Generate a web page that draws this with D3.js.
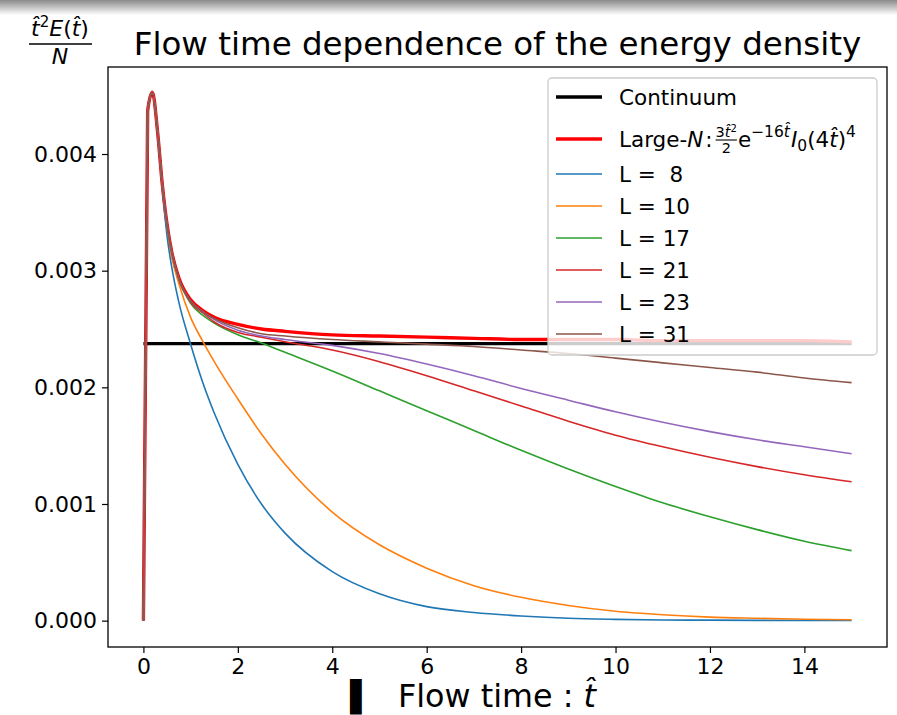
<!DOCTYPE html>
<html>
<head>
<meta charset="utf-8">
<script src="https://cdn.jsdelivr.net/npm/d3@7"></script>
<style>
  html, body { margin: 0; padding: 0; background: #fff; }
  svg { display: block; }
  text { font-family: "DejaVu Sans", sans-serif; fill: #000; }
</style>
</head>
<body>
<svg id="chart" width="897" height="715"></svg>
<script>
// Flow time grid shared by every curve
const flowTime = [0, 0.09, 0.19, 0.3, 0.4, 0.5, 0.6, 0.75, 1, 1.25, 1.5, 2, 2.5, 3, 4, 5, 6, 7, 8, 9, 10, 11, 12, 13, 14, 15];

// Continuum value of t^2 E / N
const continuumValue = 0.002375;

// Large-N curve
const largeN = [0, 0.00437, 0.00453, 0.00419, 0.00374, 0.00340, 0.00316, 0.00294, 0.00275, 0.00266, 0.00260, 0.00254, 0.00250, 0.00248, 0.00245, 0.00244, 0.00243, 0.00242, 0.00241, 0.00241, 0.00241, 0.00240, 0.00240, 0.00240, 0.00240, 0.00239];

// Lattice sizes and their curves
const latticeSizes = [8, 10, 17, 21, 23, 31];
const seriesL8  = [0, 0.00437, 0.00453, 0.00419, 0.00372, 0.00330, 0.00303, 0.00273, 0.00237, 0.00205, 0.00178, 0.00134, 0.00100, 0.00075, 0.00042, 0.00023, 0.00012, 0.00007, 0.00004, 0.00002, 0.000011, 0.000006, 0.000004, 0.000002, 0.000001, 0.000001];
const seriesL10 = [0, 0.00437, 0.00453, 0.00419, 0.00374, 0.00338, 0.00312, 0.00289, 0.00260, 0.00240, 0.00222, 0.00190, 0.00160, 0.00134, 0.00093, 0.00065, 0.00045, 0.00030, 0.00020, 0.00013, 0.00008, 0.00005, 0.00003, 0.00002, 0.000012, 0.000008];
const seriesL17 = [0, 0.00437, 0.00453, 0.00419, 0.00374, 0.00340, 0.00316, 0.00293, 0.00272, 0.00262, 0.00255, 0.00245, 0.00238, 0.00230, 0.00214, 0.00197, 0.00180, 0.00163, 0.00146, 0.00130, 0.00115, 0.00101, 0.00089, 0.00078, 0.00068, 0.00060];
const seriesL21 = [0, 0.00437, 0.00453, 0.00419, 0.00374, 0.00340, 0.00316, 0.00293, 0.00273, 0.00264, 0.00256, 0.00247, 0.00243, 0.00239, 0.00232, 0.00222, 0.00210, 0.00197, 0.00184, 0.00171, 0.00159, 0.00149, 0.00140, 0.00132, 0.00125, 0.00119];
const seriesL23 = [0, 0.00437, 0.00453, 0.00419, 0.00374, 0.00340, 0.00316, 0.00293, 0.00274, 0.00265, 0.00258, 0.00249, 0.00244, 0.00241, 0.00236, 0.00229, 0.00220, 0.00210, 0.00199, 0.00189, 0.00179, 0.00170, 0.00162, 0.00155, 0.00149, 0.00143];
const seriesL31 = [0, 0.00437, 0.00453, 0.00419, 0.00374, 0.00340, 0.00316, 0.00293, 0.00274, 0.00265, 0.00259, 0.00251, 0.00246, 0.00244, 0.00241, 0.00239, 0.00237, 0.00235, 0.00232, 0.00229, 0.00225, 0.00221, 0.00217, 0.00213, 0.00208, 0.00204];
const latticeSeries = [seriesL8, seriesL10, seriesL17, seriesL21, seriesL23, seriesL31];
const latticeColors = ["#1f77b4", "#ff7f0e", "#2ca02c", "#d62728", "#9467bd", "#8c564b"];

// Axis ticks
const xTicks = [0, 2, 4, 6, 8, 10, 12, 14];
const yTicks = [0, 0.001, 0.002, 0.003, 0.004];

const svg = d3.select("#chart");
const W = 897, H = 715;
const plot = { left: 108, right: 887, top: 67, bottom: 647 };

// faint shading along the top edge
const defs = svg.append("defs");
const grad = defs.append("linearGradient").attr("id", "topShade").attr("x1", 0).attr("y1", 0).attr("x2", 0).attr("y2", 1);
grad.append("stop").attr("offset", "0%").attr("stop-color", "#8a8a8a");
grad.append("stop").attr("offset", "100%").attr("stop-color", "#ffffff");
svg.append("rect").attr("x", 0).attr("y", 0).attr("width", W).attr("height", 15).attr("fill", "url(#topShade)");

const x = d3.scaleLinear().domain([-0.75, 15.75]).range([plot.left, plot.right]);
const y = d3.scaleLinear().domain([-0.000226, 0.004746]).range([plot.bottom, plot.top]);

const line = d3.line()
  .x(d => x(d[0]))
  .y(d => y(d[1]))
  .curve(d3.curveMonotoneX);

const gLines = svg.append("g");

// continuum
gLines.append("path")
  .datum([[flowTime[0], continuumValue], [flowTime[flowTime.length - 1], continuumValue]])
  .attr("d", line)
  .attr("fill", "none").attr("stroke", "#000").attr("stroke-width", 3.2);

// large-N
gLines.append("path")
  .datum(flowTime.map((t, i) => [t, largeN[i]]))
  .attr("d", line)
  .attr("fill", "none").attr("stroke", "#ff0000").attr("stroke-width", 3.4)
  .attr("stroke-linejoin", "round");

// lattice curves
latticeSeries.forEach((vals, k) => {
  gLines.append("path")
    .datum(flowTime.map((t, i) => [t, vals[i]]))
    .attr("d", line)
    .attr("fill", "none").attr("stroke", latticeColors[k]).attr("stroke-width", 1.6)
    .attr("stroke-linejoin", "round");
});

// axes
const xAxis = d3.axisBottom(x).tickValues(xTicks).tickFormat(d3.format("d")).tickSize(6).tickPadding(5);
const yAxis = d3.axisLeft(y).tickValues(yTicks).tickFormat(d3.format(".3f")).tickSize(6).tickPadding(5);

const gx = svg.append("g").attr("transform", `translate(0,${plot.bottom})`).call(xAxis);
const gy = svg.append("g").attr("transform", `translate(${plot.left},0)`).call(yAxis);
[gx, gy].forEach(g => {
  g.select(".domain").remove();
  g.selectAll(".tick line").attr("stroke", "#000").attr("stroke-width", 1.2);
  g.selectAll(".tick text").attr("font-size", 22).attr("font-family", "DejaVu Sans").attr("fill", "#000");
});

// frame
svg.append("rect")
  .attr("x", plot.left).attr("y", plot.top)
  .attr("width", plot.right - plot.left).attr("height", plot.bottom - plot.top)
  .attr("fill", "none").attr("stroke", "#000").attr("stroke-width", 1.3);

// title
svg.append("text")
  .attr("x", (plot.left + plot.right) / 2).attr("y", 55)
  .attr("text-anchor", "middle").attr("font-size", 32.5)
  .text("Flow time dependence of the energy density");

// y label as a stacked fraction
const yl = svg.append("g");
yl.append("text").attr("x", 60).attr("y", 36).attr("text-anchor", "middle").attr("font-size", 22)
  .call(t => {
    t.append("tspan").attr("font-style", "italic").text("t\u0302");
    t.append("tspan").attr("font-size", 15).attr("dy", -9).text("2");
    t.append("tspan").attr("font-style", "italic").attr("dy", 9).text("E");
    t.append("tspan").text("(");
    t.append("tspan").attr("font-style", "italic").text("t\u0302");
    t.append("tspan").text(")");
  });
yl.append("line").attr("x1", 29).attr("x2", 92).attr("y1", 44).attr("y2", 44).attr("stroke", "#000").attr("stroke-width", 1.7);
yl.append("text").attr("x", 60).attr("y", 64).attr("text-anchor", "middle").attr("font-size", 22)
  .attr("font-style", "italic").text("N");

// x label
svg.append("text").attr("x", 350).attr("y", 707).attr("font-size", 30).text("\u258C");
const xl = svg.append("text").attr("x", 398).attr("y", 707).attr("font-size", 31.8);
xl.append("tspan").text("Flow time : ");
xl.append("tspan").attr("font-style", "italic").text("t\u0302");

// legend
const leg = svg.append("g");
const lg = { x: 548, y: 78, w: 329, h: 277 };
leg.append("rect")
  .attr("x", lg.x).attr("y", lg.y).attr("width", lg.w).attr("height", lg.h)
  .attr("rx", 4).attr("ry", 4)
  .attr("fill", "rgba(255,255,255,0.8)").attr("stroke", "#cccccc").attr("stroke-width", 1.3);

const rowY = [97, 139, 174, 206, 238, 270, 302, 334];
const handleX0 = 556, handleX1 = 602, labelX = 619;
const fs = 21.5;

// Continuum entry
leg.append("line").attr("x1", handleX0).attr("x2", handleX1).attr("y1", rowY[0]).attr("y2", rowY[0])
  .attr("stroke", "#000").attr("stroke-width", 3.4);
leg.append("text").attr("x", labelX).attr("y", rowY[0] + 7.5).attr("font-size", fs).text("Continuum");

// Large-N entry, laid out piece by piece
leg.append("line").attr("x1", handleX0).attr("x2", handleX1).attr("y1", rowY[1]).attr("y2", rowY[1])
  .attr("stroke", "#ff0000").attr("stroke-width", 3.4);
{
  const base = rowY[1] + 8;
  let cx = labelX;
  const piece = (str, opts = {}) => {
    const t = leg.append("text")
      .attr("x", cx).attr("y", base + (opts.dy || 0))
      .attr("font-size", opts.size || fs)
      .attr("font-style", opts.italic ? "italic" : "normal")
      .text(str);
    cx += t.node().getComputedTextLength() + (opts.gap || 0);
    return t;
  };
  piece("Large-");
  piece("N", { italic: true, gap: 2 });
  piece(":", { gap: 3 });
  // fraction 3t^2 / 2
  const fx = cx;
  const num = leg.append("text").attr("x", fx).attr("y", base - 10).attr("font-size", 14.5);
  num.append("tspan").text("3");
  num.append("tspan").attr("font-style", "italic").text("t\u0302");
  num.append("tspan").attr("font-size", 10).attr("dy", -5).text("2");
  const fw = num.node().getComputedTextLength();
  leg.append("line").attr("x1", fx).attr("x2", fx + fw).attr("y1", base - 7).attr("y2", base - 7)
    .attr("stroke", "#000").attr("stroke-width", 1.1);
  leg.append("text").attr("x", fx + fw / 2).attr("y", base + 6).attr("font-size", 14.5)
    .attr("text-anchor", "middle").text("2");
  cx = fx + fw + 1;
  piece("e");
  const sup = leg.append("text").attr("x", cx).attr("y", base - 10).attr("font-size", 15.5);
  sup.append("tspan").text("\u221216");
  sup.append("tspan").attr("font-style", "italic").text("t\u0302");
  cx += sup.node().getComputedTextLength() + 1;
  piece("I", { italic: true });
  piece("0", { size: 15.5, dy: 4 });
  piece("(4");
  piece("t\u0302", { italic: true });
  piece(")");
  piece("4", { size: 15.5, dy: -10 });
}

// lattice entries
latticeSizes.forEach((L, k) => {
  const ry = rowY[k + 2];
  leg.append("line").attr("x1", handleX0).attr("x2", handleX1).attr("y1", ry).attr("y2", ry)
    .attr("stroke", latticeColors[k]).attr("stroke-width", 1.6);
  leg.append("text").attr("x", labelX).attr("y", ry + 7.5).attr("font-size", fs)
    .attr("xml:space", "preserve").style("white-space", "pre")
    .text("L = " + (L < 10 ? " " + L : L));
});
</script>
</body>
</html>
